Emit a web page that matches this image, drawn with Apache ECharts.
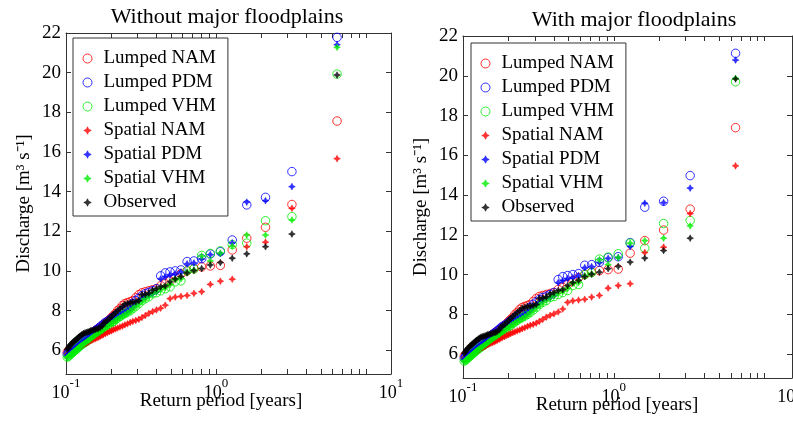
<!DOCTYPE html>
<html><head><meta charset="utf-8">
<script src="https://cdn.jsdelivr.net/npm/echarts@6/dist/echarts.min.js"></script>
<style>html,body{margin:0;padding:0;background:#fff}#c{width:793px;height:425px}</style>
</head><body><div id="c"></div>
<script>
// Return period [years] of each ranked event (rank 1 = largest)
const returnPeriod = [6.42, 3.21, 2.14, 1.605, 1.284, 1.07, 0.917, 0.803, 0.713, 0.642,
  0.584, 0.535, 0.494, 0.459, 0.428, 0.401, 0.378, 0.357, 0.338, 0.321,
  0.306, 0.292, 0.279, 0.268, 0.257, 0.247, 0.238, 0.229, 0.221, 0.214,
  0.207, 0.201, 0.195, 0.189, 0.183, 0.178, 0.174, 0.169, 0.165, 0.161,
  0.157, 0.153, 0.149, 0.146, 0.143, 0.140, 0.137, 0.134, 0.131, 0.128,
  0.126, 0.123, 0.121, 0.119, 0.117, 0.115, 0.113, 0.111, 0.109, 0.107,
  0.105, 0.104, 0.102];

const seriesNames = ['Lumped NAM', 'Lumped PDM', 'Lumped VHM', 'Spatial NAM', 'Spatial PDM', 'Spatial VHM', 'Observed'];
const plotTitles = ['Without major floodplains', 'With major floodplains'];
const xLabelValues = [0.1, 1, 10];
const xLabelExponents = ['-1', '0', '1'];
const xTickValues = [0.1, 0.2, 0.3, 0.4, 0.5, 0.6, 0.7, 0.8, 0.9, 1, 2, 3, 4, 5, 6, 7, 8, 9, 10];
const yTickValues = [6, 8, 10, 12, 14, 16, 18, 20, 22];

// ---- Without major floodplains ----
const lumpedNamA = [17.56, 13.35, 12.2, 11.65, 11.06, 10.28, 10.25, 10.2, 10.12, 10.0, 9.85, 9.7, 9.5, 9.35, 9.25, 9.1, 9.05, 9.0, 8.95, 8.9, 8.8, 8.65, 8.5, 8.45, 8.4, 8.35, 8.25, 8.1, 8.0, 7.85, 7.75, 7.65, 7.55, 7.45, 7.35, 7.3, 7.2, 7.15, 7.1, 7.05, 6.98, 6.9, 6.85, 6.8, 6.75, 6.7, 6.65, 6.6, 6.55, 6.5, 6.45, 6.42, 6.38, 6.35, 6.3, 6.25, 6.2, 6.15, 6.1, 6.05, 6.0, 5.95, 5.9];
const lumpedPdmA = [21.78, 15.01, 13.71, 13.33, 11.56, 10.97, 10.85, 10.62, 10.5, 10.47, 10.05, 10.0, 9.95, 9.9, 9.75, 9.1, 9.0, 8.92, 8.85, 8.75, 8.62, 8.5, 8.35, 8.25, 8.15, 8.05, 7.98, 7.9, 7.82, 7.75, 7.68, 7.6, 7.52, 7.45, 7.4, 7.32, 7.25, 7.18, 7.1, 7.05, 6.98, 6.9, 6.85, 6.8, 6.72, 6.65, 6.6, 6.55, 6.5, 6.45, 6.4, 6.35, 6.3, 6.25, 6.2, 6.15, 6.1, 6.05, 6.0, 5.95, 5.9, 5.85, 5.8];
const lumpedVhmA = [19.93, 12.74, 12.53, 11.4, 11.33, 11.01, 10.88, 10.78, 10.1, 10.0, 9.5, 9.45, 9.2, 9.1, 9.0, 8.9, 8.85, 8.7, 8.6, 8.5, 8.35, 8.22, 8.1, 8.0, 7.92, 7.85, 7.78, 7.7, 7.62, 7.55, 7.45, 7.38, 7.3, 7.22, 7.15, 7.08, 7.0, 6.95, 6.9, 6.85, 6.8, 6.72, 6.65, 6.6, 6.55, 6.5, 6.45, 6.4, 6.35, 6.3, 6.25, 6.2, 6.15, 6.1, 6.05, 6.0, 5.95, 5.9, 5.85, 5.8, 5.75, 5.7, 5.65];
const spatialNamA = [15.66, 13.16, 11.45, 11.22, 9.58, 9.48, 9.32, 8.95, 8.87, 8.76, 8.72, 8.68, 8.6, 8.27, 8.12, 8.03, 7.95, 7.86, 7.75, 7.65, 7.56, 7.5, 7.45, 7.4, 7.33, 7.28, 7.22, 7.17, 7.12, 7.08, 7.03, 6.98, 6.94, 6.88, 6.84, 6.8, 6.75, 6.7, 6.66, 6.62, 6.58, 6.55, 6.51, 6.48, 6.45, 6.4, 6.36, 6.33, 6.3, 6.25, 6.22, 6.18, 6.14, 6.1, 6.07, 6.03, 6.0, 5.96, 5.93, 5.9, 5.87, 5.84, 5.8];
const spatialPdmA = [21.41, 14.25, 13.54, 13.47, 11.42, 10.87, 10.82, 10.6, 10.4, 10.35, 9.95, 9.85, 9.8, 9.7, 9.6, 8.95, 8.85, 8.8, 8.7, 8.6, 8.5, 8.35, 8.2, 8.1, 8.0, 7.92, 7.85, 7.78, 7.7, 7.65, 7.58, 7.5, 7.45, 7.38, 7.3, 7.25, 7.18, 7.12, 7.05, 7.0, 6.92, 6.85, 6.8, 6.72, 6.65, 6.6, 6.55, 6.5, 6.45, 6.4, 6.35, 6.3, 6.25, 6.2, 6.15, 6.1, 6.05, 6.0, 5.95, 5.9, 5.85, 5.8, 5.75];
const spatialVhmA = [21.28, 12.57, 11.81, 11.81, 11.25, 10.9, 10.5, 10.75, 10.05, 9.95, 9.6, 9.55, 9.3, 9.15, 9.05, 8.95, 8.85, 8.72, 8.6, 8.48, 8.35, 8.22, 8.1, 7.98, 7.88, 7.8, 7.72, 7.65, 7.58, 7.5, 7.42, 7.35, 7.28, 7.2, 7.12, 7.05, 6.98, 6.92, 6.87, 6.82, 6.76, 6.7, 6.63, 6.57, 6.52, 6.47, 6.42, 6.37, 6.32, 6.27, 6.22, 6.17, 6.12, 6.07, 6.02, 5.97, 5.92, 5.87, 5.82, 5.77, 5.72, 5.68, 5.63];
const observedA = [19.88, 11.86, 11.22, 10.86, 10.64, 10.42, 10.3, 10.12, 10.02, 9.9, 9.72, 9.6, 9.45, 9.25, 9.2, 9.1, 9.02, 8.88, 8.82, 8.8, 8.5, 8.45, 8.42, 8.4, 8.35, 8.32, 8.2, 8.1, 8.0, 7.9, 7.8, 7.7, 7.6, 7.5, 7.42, 7.35, 7.22, 7.15, 7.1, 7.08, 7.05, 7.02, 7.0, 6.98, 6.95, 6.92, 6.9, 6.88, 6.85, 6.8, 6.75, 6.7, 6.65, 6.6, 6.55, 6.5, 6.45, 6.4, 6.33, 6.27, 6.2, 6.12, 6.05];

// ---- With major floodplains ----
const lumpedNamB = [17.39, 13.29, 12.24, 11.71, 11.08, 10.28, 10.25, 10.2, 10.12, 10.0, 9.85, 9.7, 9.5, 9.35, 9.25, 9.1, 9.05, 9.0, 8.95, 8.9, 8.8, 8.65, 8.5, 8.45, 8.4, 8.35, 8.25, 8.1, 8.0, 7.85, 7.75, 7.65, 7.55, 7.45, 7.35, 7.3, 7.2, 7.15, 7.1, 7.05, 6.98, 6.9, 6.85, 6.8, 6.75, 6.7, 6.65, 6.6, 6.55, 6.5, 6.45, 6.42, 6.38, 6.35, 6.3, 6.25, 6.2, 6.15, 6.1, 6.05, 6.0, 5.95, 5.9];
const lumpedPdmB = [21.13, 14.98, 13.69, 13.39, 11.61, 10.9, 10.85, 10.62, 10.5, 10.47, 10.05, 10.0, 9.95, 9.9, 9.75, 9.1, 9.0, 8.92, 8.85, 8.75, 8.62, 8.5, 8.35, 8.25, 8.15, 8.05, 7.98, 7.9, 7.82, 7.75, 7.68, 7.6, 7.52, 7.45, 7.4, 7.32, 7.25, 7.18, 7.1, 7.05, 6.98, 6.9, 6.85, 6.8, 6.72, 6.65, 6.6, 6.55, 6.5, 6.45, 6.4, 6.35, 6.3, 6.25, 6.2, 6.15, 6.1, 6.05, 6.0, 5.95, 5.9, 5.85, 5.8];
const lumpedVhmB = [19.7, 12.72, 12.57, 11.33, 11.58, 11.05, 10.88, 10.78, 10.1, 10.0, 9.5, 9.45, 9.2, 9.1, 9.0, 8.9, 8.85, 8.7, 8.6, 8.5, 8.35, 8.22, 8.1, 8.0, 7.92, 7.85, 7.78, 7.7, 7.62, 7.55, 7.45, 7.38, 7.3, 7.22, 7.15, 7.08, 7.0, 6.95, 6.9, 6.85, 6.8, 6.72, 6.65, 6.6, 6.55, 6.5, 6.45, 6.4, 6.35, 6.3, 6.25, 6.2, 6.15, 6.1, 6.05, 6.0, 5.95, 5.9, 5.85, 5.8, 5.75, 5.7, 5.65];
const spatialNamB = [15.47, 13.07, 11.38, 11.11, 9.54, 9.45, 9.32, 8.95, 8.87, 8.76, 8.72, 8.68, 8.6, 8.27, 8.12, 8.03, 7.95, 7.86, 7.75, 7.65, 7.56, 7.5, 7.45, 7.4, 7.33, 7.28, 7.22, 7.17, 7.12, 7.08, 7.03, 6.98, 6.94, 6.88, 6.84, 6.8, 6.75, 6.7, 6.66, 6.62, 6.58, 6.55, 6.51, 6.48, 6.45, 6.4, 6.36, 6.33, 6.3, 6.25, 6.22, 6.18, 6.14, 6.1, 6.07, 6.03, 6.0, 5.96, 5.93, 5.9, 5.87, 5.84, 5.8];
const spatialPdmB = [20.79, 14.35, 13.62, 13.59, 11.41, 10.85, 10.82, 10.6, 10.4, 10.35, 9.95, 9.85, 9.8, 9.7, 9.6, 8.95, 8.85, 8.8, 8.7, 8.6, 8.5, 8.35, 8.2, 8.1, 8.0, 7.92, 7.85, 7.78, 7.7, 7.65, 7.58, 7.5, 7.45, 7.38, 7.3, 7.25, 7.18, 7.12, 7.05, 7.0, 6.92, 6.85, 6.8, 6.72, 6.65, 6.6, 6.55, 6.5, 6.45, 6.4, 6.35, 6.3, 6.25, 6.2, 6.15, 6.1, 6.05, 6.0, 5.95, 5.9, 5.85, 5.8, 5.75];
const spatialVhmB = [19.87, 12.45, 11.83, 11.71, 11.58, 10.85, 10.5, 10.75, 10.05, 9.95, 9.6, 9.55, 9.3, 9.15, 9.05, 8.95, 8.85, 8.72, 8.6, 8.48, 8.35, 8.22, 8.1, 7.98, 7.88, 7.8, 7.72, 7.65, 7.58, 7.5, 7.42, 7.35, 7.28, 7.2, 7.12, 7.05, 6.98, 6.92, 6.87, 6.82, 6.76, 6.7, 6.63, 6.57, 6.52, 6.47, 6.42, 6.37, 6.32, 6.27, 6.22, 6.17, 6.12, 6.07, 6.02, 5.97, 5.92, 5.87, 5.82, 5.77, 5.72, 5.68, 5.63];
const observedB = [19.84, 11.83, 11.21, 10.83, 10.63, 10.41, 10.3, 10.12, 10.02, 9.9, 9.72, 9.6, 9.45, 9.25, 9.2, 9.1, 9.02, 8.88, 8.82, 8.8, 8.5, 8.45, 8.42, 8.4, 8.35, 8.32, 8.2, 8.1, 8.0, 7.9, 7.8, 7.7, 7.6, 7.5, 7.42, 7.35, 7.22, 7.15, 7.1, 7.08, 7.05, 7.02, 7.0, 6.98, 6.95, 6.92, 6.9, 6.88, 6.85, 6.8, 6.75, 6.7, 6.65, 6.6, 6.55, 6.5, 6.45, 6.4, 6.33, 6.27, 6.2, 6.12, 6.05];

const panelValues = [
  [lumpedNamA, lumpedPdmA, lumpedVhmA, spatialNamA, spatialPdmA, spatialVhmA, observedA],
  [lumpedNamB, lumpedPdmB, lumpedVhmB, spatialNamB, spatialPdmB, spatialVhmB, observedB]
];

// ---- styling ----
const FONT = 'Liberation Serif';
const AX = '#333';
const colors = ['#ff0000', '#0000ff', '#00ee00', '#ff0000', '#0000ff', '#00ee00', '#000000'];
const STAR = 'path://M0,0M10,10M5,0.8L6.4,3.6L9.2,5L6.4,6.4L5,9.2L3.6,6.4L0.8,5L3.6,3.6Z';
const isLumped = [true, true, true, false, false, false, false];

const grids = [
  { left: 66, top: 33, width: 325, height: 341, outerBoundsMode: 'none', containLabel: false },
  { left: 463, top: 36, width: 329, height: 342, outerBoundsMode: 'none', containLabel: false }
];
const xMax = [14.7, 15.2];
const titlePos = [[227, 17], [634, 20]];
const legendPos = [[73, 38], [471, 43]];
const xNamePad = [15, 21];

function xLabel(v) {
  for (let i = 0; i < xLabelValues.length; i++) {
    if (Math.abs(Math.log10(v) - Math.log10(xLabelValues[i])) < 1e-6) {
      return (i === 2 ? '{r|10}' : '{b|10}') + '{s|' + xLabelExponents[i] + '}';
    }
  }
  return '';
}

const xAxes = [], yAxes = [], series = [], legends = [], graphics = [];
grids.forEach((g, p) => {
  const xBase = { type: 'log', logBase: 10, gridIndex: p, min: 0.1, max: xMax[p],
    splitLine: { show: false }, axisLine: { show: true, lineStyle: { color: AX, width: 1 } },
    axisTick: { show: true, inside: true, length: 5, customValues: xTickValues, lineStyle: { color: AX } } };
  xAxes.push(Object.assign({}, xBase, {
    position: 'bottom',
    name: 'Return period [years]', nameLocation: 'middle', nameGap: 18, nameMoveOverlap: false,
    nameTextStyle: { fontFamily: FONT, fontSize: 19, color: '#000', padding: [0, xNamePad[p], 0, 0] },
    axisLabel: { show: true, customValues: xLabelValues, margin: 3, formatter: xLabel, color: '#000',
      rich: {
        b: { fontFamily: FONT, fontSize: 18, color: '#000' },
        r: { fontFamily: FONT, fontSize: 18, color: '#000', padding: [0, 0, 0, 50] },
        s: { fontFamily: FONT, fontSize: 13, color: '#000', padding: [0, 0, 20, 0] }
      } }
  }));
  xAxes.push(Object.assign({}, xBase, { position: 'top', axisLabel: { show: false } }));
  const yBase = { type: 'value', gridIndex: p, min: 4.8, max: 22, splitLine: { show: false },
    axisLine: { show: true, lineStyle: { color: AX, width: 1 } },
    axisTick: { show: true, inside: true, length: 5, customValues: yTickValues, lineStyle: { color: AX } } };
  yAxes.push(Object.assign({}, yBase, {
    position: 'left',
    name: 'Discharge [m³ s⁻¹]', nameLocation: 'middle', nameGap: 32, nameMoveOverlap: false,
    nameTextStyle: { fontFamily: FONT, fontSize: 19, color: '#000' },
    axisLabel: { show: true, customValues: yTickValues, margin: 5, fontFamily: FONT, fontSize: 19, color: '#000' }
  }));
  yAxes.push(Object.assign({}, yBase, { position: 'right', axisLabel: { show: false } }));

  seriesNames.forEach((name, k) => {
    const lumped = isLumped[k];
    series.push({
      type: 'scatter', name: name, xAxisIndex: p * 2, yAxisIndex: p * 2,
      symbol: lumped ? 'circle' : STAR,
      symbolSize: lumped ? 8.5 : 8,
      itemStyle: lumped
        ? { color: 'rgba(0,0,0,0)', borderColor: colors[k], borderWidth: 1 }
        : { color: colors[k], borderColor: colors[k], borderWidth: 0.6 },
      z: 2 + k,
      silent: true,
      data: returnPeriod.map((x, i) => [x, panelValues[p][k][i]])
    });
  });

  legends.push({
    show: true, orient: 'vertical', left: legendPos[p][0], top: legendPos[p][1],
    padding: [11, 12, 4, 9.5], itemGap: 5, itemWidth: 22, itemHeight: 9,
    backgroundColor: '#fff', borderColor: '#333', borderWidth: 1, selectedMode: false,
    textStyle: { fontFamily: FONT, fontSize: 19, color: '#000', lineHeight: 16 },
    data: seriesNames.map((n, k) => ({ name: n, itemStyle: { borderWidth: isLumped[k] ? 1 : 0.6 } }))
  });

  graphics.push({ type: 'text', x: titlePos[p][0], y: titlePos[p][1],
    style: { text: plotTitles[p], fontFamily: FONT, fontSize: 22, fill: '#000', align: 'center', verticalAlign: 'middle' } });
});

const chart = echarts.init(document.getElementById('c'), null, { renderer: 'canvas' });
chart.setOption({
  animation: false,
  backgroundColor: '#fff',
  grid: grids,
  xAxis: xAxes,
  yAxis: yAxes,
  legend: legends,
  graphic: graphics,
  series: series
});
</script>
</body></html>
